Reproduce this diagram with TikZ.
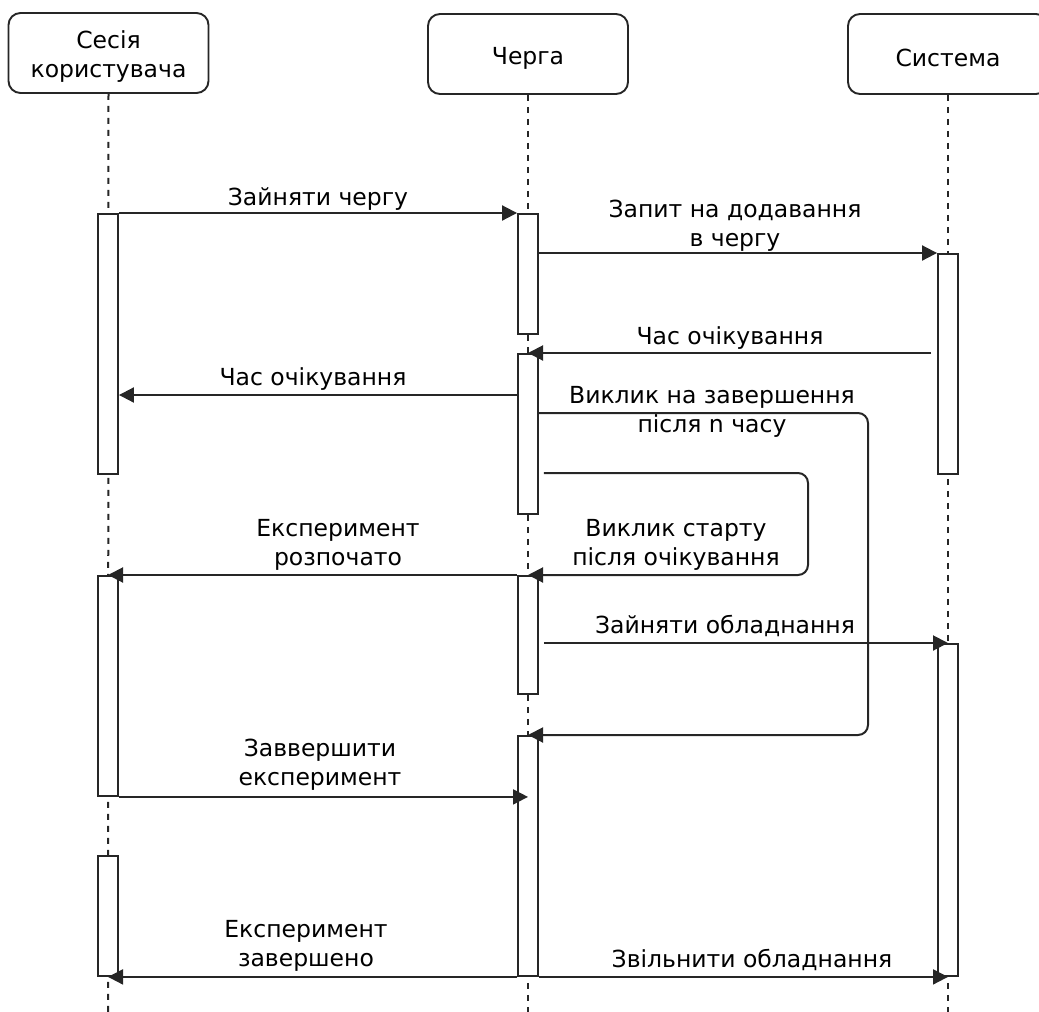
\documentclass[tikz,border=0pt]{standalone}
\usepackage{fontspec}
\setmainfont{DejaVu Sans}
\usetikzlibrary{arrows.meta,calc}
\colorlet{ink}{black!85}
\begin{document}
\begin{tikzpicture}[x=1pt,y=-1pt,
  every node/.style={font=\fontsize{23.5}{29}\selectfont, text=black},
  head/.style={draw=ink, rounded corners=12pt, minimum width=200pt, minimum height=80pt, line width=1.9pt, inner sep=0pt},
  headtext/.style={align=center, inner sep=0pt, yshift=-4pt},
  bar/.style={draw=ink, fill=white, minimum width=20pt, inner sep=0pt, line width=1.9pt, anchor=north},
  life/.style={draw=ink, dash pattern=on 6pt off 6pt, line width=2pt},
  msg/.style={draw=ink, line width=2pt, -{Triangle[length=15pt,width=15pt]}},
  lbl/.style={inner sep=0pt, align=center, anchor=base}]
\clip (0,0) rectangle (1039,1012);

% participants
\node[head, label={[headtext]center:Сесія\\користувача}] (s) at (108.5,53) {};
\node[head, label={[headtext]center:Черга}] (q) at (528,54) {};
\node[head, label={[headtext]center:Система}] (y) at (948,54) {};

% lifelines
\coordinate (sEnd) at (108,1012);
\coordinate (qEnd) at (528,1012);
\coordinate (yEnd) at (948,1012);
\draw[life] (s.south) -- (sEnd);
\draw[life] (q.south) -- (qEnd);
\draw[life] (y.south) -- (yEnd);

% activation bars
\node[bar, minimum height=260pt] (a1) at (108,213) {};
\node[bar, minimum height=220pt] (a2) at (108,575) {};
\node[bar, minimum height=120pt] (a3) at (108,855) {};
\node[bar, minimum height=120pt] (b1) at (528,213) {};
\node[bar, minimum height=160pt] (b2) at (528,353) {};
\node[bar, minimum height=118pt] (b3) at (528,575) {};
\node[bar, minimum height=240pt] (b4) at (528,735) {};
\node[bar, minimum height=220pt] (c1) at (948,253) {};
\node[bar, minimum height=332pt] (c2) at (948,643) {};

% messages
\draw[msg] (a1.north east) -- (b1.north west);
\draw[msg] (b1.east |- c1.north) -- (c1.north west);
\draw[msg] ($(c1.west |- b2.north)+(-6,0)$) -- (b2.north);
\coordinate (m4) at ($(b2.north west)+(0,42)$);
\draw[msg] (m4) -- (a1.east |- m4);
\draw[msg, rounded corners=10pt] ($(b2.north east)+(0,60)$) -| ($(b4.north)+(340,0)$) -- (b4.north);
\draw[msg, rounded corners=10pt] ($(b2.north east)+(5,120)$) -| ($(b3.north)+(280,0)$) -- (b3.north);
\draw[msg] (b3.north west) -- (a2.north);
\draw[msg] ($(b3.north east)+(5,68)$) -- (c2.north);
\draw[msg] (a2.south east) -- (b4.center |- a2.south);
\draw[msg] (b4.south west) -- (a3.south);
\draw[msg] (b4.south east) -- (c2.south);

% message labels (base = baseline of the last line)
\node[lbl] (l1) at (318,205) {Зайняти чергу};
\node[lbl] (l2) at (735,246) {Запит на додавання\\в чергу};
\node[lbl] (l3) at (730,344) {Час очікування};
\node[lbl] (l4) at (313,385) {Час очікування};
\node[lbl] (l5) at (712,432) {Виклик на завершення\\після n часу};
\node[lbl] (l6) at (676,565) {Виклик старту\\після очікування};
\node[lbl] (l7) at (338,565) {Експеримент\\розпочато};
\node[lbl] (l8) at (725,633) {Зайняти обладнання};
\node[lbl] (l9) at (320,785) {Заввершити\\експеримент};
\node[lbl] (l10) at (306,966) {Експеримент\\завершено};
\node[lbl] (l11) at (752,967) {Звільнити обладнання};
\end{tikzpicture}
\end{document}
